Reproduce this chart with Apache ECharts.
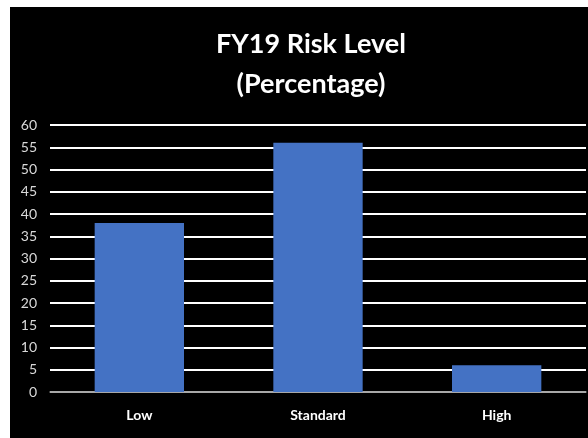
<!DOCTYPE html>
<html>
<head>
<meta charset="utf-8">
<script src="https://cdn.jsdelivr.net/npm/echarts@6/dist/echarts.min.js"></script>
<style>
html,body{margin:0;padding:0;background:#fff;}
#c{position:absolute;left:10px;top:7px;width:578px;height:431px;}
</style>
</head>
<body>
<div id="c"></div>
<script>
var categories = ['Low', 'Standard', 'High'];
var values = [38, 56, 6];
var titleText = 'FY19 Risk Level\n(Percentage)';

var chart = echarts.init(document.getElementById('c'));
chart.setOption({
  backgroundColor: '#000',
  animation: false,
  title: {
    text: titleText,
    left: 296,
    textAlign: 'center',
    top: 12,
    textStyle: {
      color: '#fff',
      fontFamily: 'Lato',
      fontWeight: 'bold',
      fontSize: 27,
      lineHeight: 40
    }
  },
  grid: { left: 40, right: 2, top: 118, bottom: 46, containLabel: false },
  xAxis: {
    type: 'category',
    data: categories,
    axisLine: { show: true, lineStyle: { color: '#8c8c8c', width: 1.5 } },
    axisTick: { show: false },
    axisLabel: { color: '#fff', fontFamily: 'Lato', fontWeight: 'bold', fontSize: 14, margin: 16 }
  },
  yAxis: {
    type: 'value',
    min: 0,
    max: 60,
    interval: 5,
    axisLine: { show: false },
    axisTick: { show: false },
    axisLabel: { color: '#d9d9d9', fontFamily: 'Lato', fontSize: 14, margin: 13 },
    splitLine: { lineStyle: { color: '#fff', width: 2 } }
  },
  series: [{
    type: 'bar',
    data: values,
    barWidth: '50%',
    itemStyle: { color: '#4472C4' },
    z: 3
  }]
});
</script>
</body>
</html>
